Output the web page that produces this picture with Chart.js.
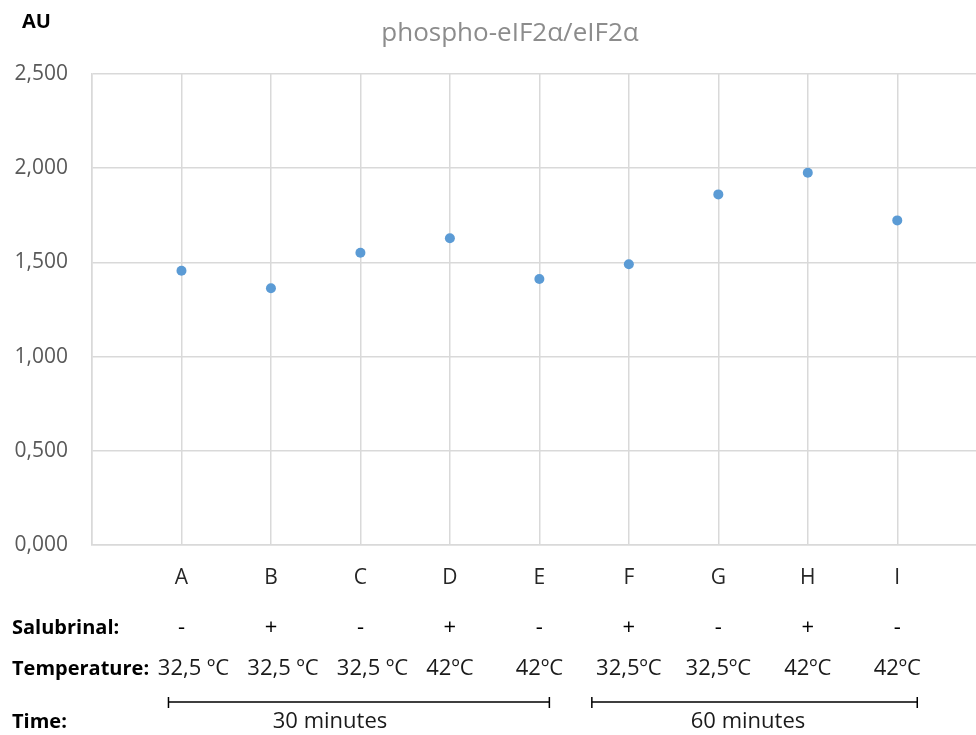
<!DOCTYPE html>
<html>
<head>
<meta charset="utf-8">
<script src="https://cdn.jsdelivr.net/npm/chart.js@4/dist/chart.umd.min.js"></script>
<style>
html,body{margin:0;padding:0;background:#fff;overflow:hidden;}
#wrap{width:976px;height:735px;position:relative;}
</style>
</head>
<body>
<div id="wrap"><canvas id="c" width="976" height="735"></canvas></div>
<script>
const categories = ['A','B','C','D','E','F','G','H','I'];
const values = [1.456, 1.363, 1.551, 1.628, 1.412, 1.49, 1.861, 1.976, 1.723];
const salubrinal = ['-','+','-','+','-','+','-','+','-'];
const temperature = ['32,5 ºC','32,5 ºC','32,5 ºC','42ºC','42ºC','32,5ºC','32,5ºC','42ºC','42ºC'];
const timeGroups = [
  {label:'30 minutes', first:0, last:4},
  {label:'60 minutes', first:5, last:8}
];
const yTicks = [0, 0.5, 1, 1.5, 2, 2.5];
const titleText = 'phospho-eIF2α/eIF2α';
const yUnit = 'AU';
const rowLabels = ['Salubrinal:', 'Temperature:', 'Time:'];

const FONT = '"Open Sans", "DejaVu Sans", sans-serif';

const annot = {
  id:'annot',
  afterDraw(chart){
    const ctx = chart.ctx;
    const xs = chart.scales.x;
    const px = i => xs.getPixelForValue(i+1);
    ctx.save();
    // title
    ctx.fillStyle = '#8c8c8c';
    ctx.font = '26px ' + FONT;
    ctx.textAlign = 'center';
    ctx.textBaseline = 'middle';
    ctx.fillText(titleText, 510, 34);
    // AU
    ctx.fillStyle = '#000';
    ctx.font = 'bold 20px ' + FONT;
    ctx.textAlign = 'left';
    ctx.fillText(yUnit, 22, 22);
    // row labels
    ctx.font = 'bold 20px ' + FONT;
    const rowY = [628, 669, 722];
    rowLabels.forEach((t,i)=>ctx.fillText(t, 12, rowY[i]));
    // salubrinal & temperature
    ctx.fillStyle = '#000';
    ctx.font = '22px ' + FONT;
    ctx.textAlign = 'center';
    salubrinal.forEach((s,i)=>ctx.fillText(s, px(i), rowY[0]));
    ctx.fillStyle = '#1a1a1a';
    temperature.forEach((s,i)=>ctx.fillText(s, px(i) + (i<3 ? 12 : 0), rowY[1]));
    // time brackets
    ctx.strokeStyle = '#000';
    ctx.lineWidth = 1.5;
    const offs = [[-13, 10], [-37, 20]];
    const textX = [330, 748];
    timeGroups.forEach((g,k)=>{
      const x1 = px(g.first) + offs[k][0];
      const x2 = px(g.last) + offs[k][1];
      const y = 702;
      ctx.beginPath();
      ctx.moveTo(x1, y); ctx.lineTo(x2, y);
      ctx.moveTo(x1, y-5); ctx.lineTo(x1, y+6);
      ctx.moveTo(x2, y-5); ctx.lineTo(x2, y+6);
      ctx.stroke();
      ctx.fillStyle = '#1a1a1a';
      ctx.fillText(g.label, textX[k], rowY[2]);
    });
    ctx.restore();
  }
};

new Chart(document.getElementById('c'), {
  type:'scatter',
  data:{
    datasets:[{
      data: values.map((v,i)=>({x:i+1, y:v})),
      backgroundColor:'#5b9bd5',
      borderColor:'#5b9bd5',
      pointRadius:5,
      pointHoverRadius:5,
      borderWidth:0
    }]
  },
  options:{
    responsive:false,
    animation:false,
    events:[],
    layout:{autoPadding:false, padding:{top:74, left:0, right:0, bottom:0}},
    plugins:{legend:{display:false}, tooltip:{enabled:false}, title:{display:false}},
    scales:{
      x:{
        type:'linear', min:0, max:9.88,
        afterFit(s){ s.height = 190; s.paddingLeft = 0; s.paddingRight = 0; },
        grid:{color:'#d9d9d9', lineWidth:1.5, drawTicks:false},
        border:{color:'#d9d9d9', width:1.5},
        ticks:{
          stepSize:1, includeBounds:false, autoSkip:false, maxRotation:0,
          padding:20,
          color:'#262626',
          font:{family:FONT, size:21},
          callback:(v)=> (v>=1 && v<=categories.length) ? categories[v-1] : ''
        }
      },
      y:{
        min:0, max:2.5,
        afterFit(s){ s.width = 92; },
        afterBuildTicks(s){ s.ticks = yTicks.map(v=>({value:v})); },
        grid:{color:'#d9d9d9', lineWidth:1.5, drawTicks:false},
        border:{color:'#d9d9d9', width:1.5},
        ticks:{
          padding:24,
          color:'#595959',
          font:{family:FONT, size:21},
          callback:(v)=> v.toFixed(3).replace('.', ',')
        }
      }
    }
  },
  plugins:[annot]
});
</script>
</body>
</html>
